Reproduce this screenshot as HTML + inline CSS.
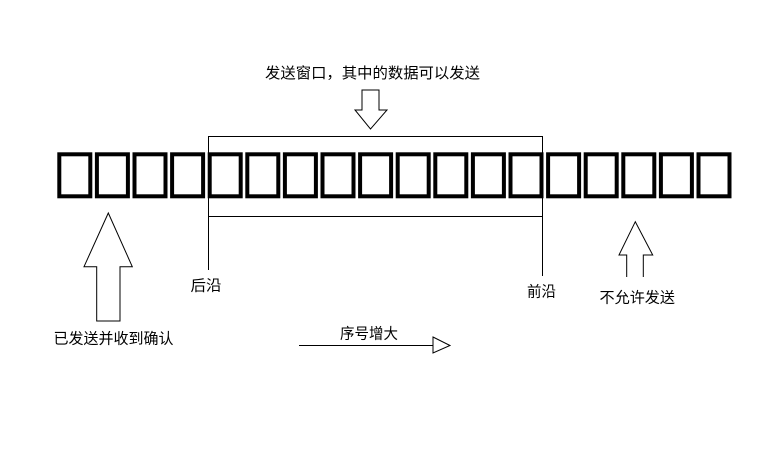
<!DOCTYPE html>
<html><head><meta charset="utf-8"><style>
html,body{margin:0;padding:0;background:#fff;}
svg{display:block;}
text{font-family:"Liberation Sans","Noto Sans CJK SC","WenQuanYi Zen Hei",sans-serif;font-size:15px;fill:#000;}
</style></head><body>
<svg width="783" height="460" viewBox="0 0 783 460" xmlns="http://www.w3.org/2000/svg">
<rect width="783" height="460" fill="#fff"/>
<g fill="none" stroke="#000" stroke-width="4">
<rect x="59.3" y="154.3" width="31" height="42"/>
<rect x="96.9" y="154.3" width="31" height="42"/>
<rect x="134.5" y="154.3" width="31" height="42"/>
<rect x="172.1" y="154.3" width="31" height="42"/>
<rect x="209.7" y="154.3" width="31" height="42"/>
<rect x="247.3" y="154.3" width="31" height="42"/>
<rect x="284.9" y="154.3" width="31" height="42"/>
<rect x="322.5" y="154.3" width="31" height="42"/>
<rect x="360.1" y="154.3" width="31" height="42"/>
<rect x="397.7" y="154.3" width="31" height="42"/>
<rect x="435.3" y="154.3" width="31" height="42"/>
<rect x="472.9" y="154.3" width="31" height="42"/>
<rect x="510.5" y="154.3" width="31" height="42"/>
<rect x="548.1" y="154.3" width="31" height="42"/>
<rect x="585.7" y="154.3" width="31" height="42"/>
<rect x="623.3" y="154.3" width="31" height="42"/>
<rect x="660.9" y="154.3" width="31" height="42"/>
<rect x="698.5" y="154.3" width="31" height="42"/>
</g>
<g fill="none" stroke="#000" stroke-width="1">
<rect x="208.5" y="136.5" width="334" height="80"/>
<line x1="208.5" y1="216" x2="208.5" y2="270"/>
<line x1="542.5" y1="216" x2="542.5" y2="276"/>
<polygon points="108.3,213 84,266.7 96.7,266.7 96.7,321 120,321 120,266.7 132.3,266.7"/>
<polyline points="626.7,277 626.7,255 619,255 635.3,221.7 652.7,255 643.3,255 643.3,277"/>
<polygon points="362,90 379,90 379,110 387,110 370.5,129 355,110 362,110"/>
<line x1="299" y1="345.5" x2="433" y2="345.5"/>
<polygon points="433,337 450,345.5 433,353"/>
</g>
<text x="265" y="78" textLength="215" lengthAdjust="spacingAndGlyphs">发送窗口，其中的数据可以发送</text>
<text x="190.5" y="290.5" textLength="31" lengthAdjust="spacingAndGlyphs">后沿</text>
<text x="527" y="296.5" textLength="29" lengthAdjust="spacingAndGlyphs">前沿</text>
<text x="599.5" y="302.5" textLength="75.5" lengthAdjust="spacingAndGlyphs">不允许发送</text>
<text x="53.5" y="343.5" textLength="120" lengthAdjust="spacingAndGlyphs">已发送并收到确认</text>
<text x="340" y="338.5" textLength="58" lengthAdjust="spacingAndGlyphs">序号增大</text>
</svg>
</body></html>
